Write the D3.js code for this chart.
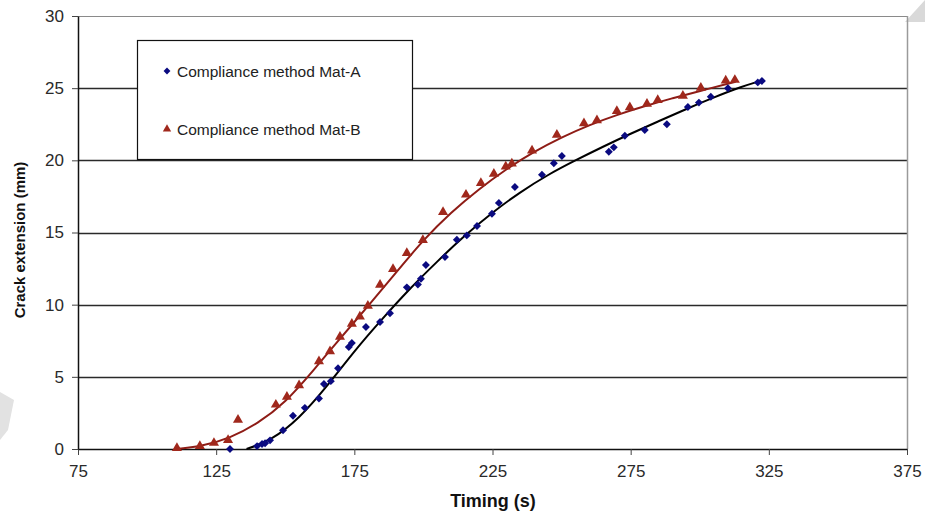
<!DOCTYPE html>
<html>
<head>
<meta charset="utf-8">
<script src="https://cdn.jsdelivr.net/npm/d3@7"></script>
<style>
  body { margin: 0; background: #fff; }
  svg { font-family: Arial, "Liberation Sans", sans-serif; }
</style>
</head>
<body>
<div id="chart"></div>
<script>
// Chart values
var xTicks = [75, 125, 175, 225, 275, 325, 375];
var yTicks = [0, 5, 10, 15, 20, 25, 30];

var seriesNames = ["Compliance method Mat-A", "Compliance method Mat-B"];

// Mat-A points (time s, crack mm)
var matATime = [130.0, 139.8, 141.6, 142.7, 144.5, 149.2, 152.8, 157.1, 162.2, 164.0, 166.5, 169.1,
  173.0, 174.1, 179.2, 184.3, 187.9, 194.0, 198.0, 199.1, 200.9, 207.8, 212.1, 215.7, 219.4,
  224.8, 227.3, 233.1, 242.9, 247.2, 250.1, 267.1, 268.9, 272.9, 280.1, 288.1, 295.7, 299.7,
  304.0, 310.2, 321.0, 322.5];
var matACrack = [0, 0.2, 0.35, 0.4, 0.6, 1.3, 2.3, 2.85, 3.5, 4.5, 4.7, 5.6,
  7.07, 7.35, 8.45, 8.8, 9.4, 11.2, 11.4, 11.8, 12.75, 13.3, 14.5, 14.8, 15.45,
  16.3, 17.05, 18.15, 19.0, 19.8, 20.3, 20.6, 20.9, 21.7, 22.1, 22.5, 23.7, 24.0,
  24.4, 25.0, 25.4, 25.5];

// Mat-B points
var matBTime = [110.8, 119.1, 124.2, 129.3, 132.9, 146.6, 150.6, 155.0, 162.2, 166.2, 169.8, 174.1,
  177.0, 179.9, 184.3, 189.0, 194.0, 199.8, 207.1, 215.4, 220.8, 225.5, 229.8, 232.0, 239.3,
  248.3, 258.1, 262.8, 270.0, 274.7, 280.9, 284.8, 293.9, 300.4, 309.4, 312.7];
var matBCrack = [0, 0.14, 0.35, 0.55, 1.95, 3.0, 3.55, 4.35, 6.0, 6.7, 7.7, 8.6,
  9.1, 9.85, 11.3, 12.4, 13.5, 14.4, 16.35, 17.55, 18.35, 19.0, 19.5, 19.7, 20.6,
  21.7, 22.5, 22.7, 23.35, 23.6, 23.85, 24.1, 24.4, 24.95, 25.45, 25.5];

// Trend curves, nodes
var trendATime = [136, 145, 155, 165, 175, 185, 195, 205, 215, 225, 235, 245, 255, 265, 275, 285, 295, 305, 315, 322];
var trendACrack = [0, 0.6, 2.1, 4.3, 6.8, 9.0, 11.1, 13.0, 14.8, 16.4, 17.8, 19.0, 20.0, 20.95, 21.85, 22.7, 23.55, 24.35, 25.1, 25.5];
var trendBTime = [110.8, 120, 130, 140, 150, 160, 170, 180, 190, 200, 210, 220, 230, 240, 250, 260, 270, 280, 290, 300, 313];
var trendBCrack = [0, 0.2, 0.75, 1.75, 3.2, 5.4, 7.7, 9.9, 12.2, 14.5, 16.4, 18.0, 19.4, 20.6, 21.6, 22.45, 23.15, 23.75, 24.3, 24.8, 25.45];

var svgWidth = 925;
var svgHeight = 514;

var margin = { top: 16, left: 78, right: 18, bottom: 65 };
var width = svgWidth - margin.left - margin.right;
var height = svgHeight - margin.top - margin.bottom;

var colorA = "#0a0a80";
var colorB = "#a0281c";
var lineB = "#8e1c16";

var svg = d3.select("#chart")
  .append("svg")
  .attr("width", svgWidth)
  .attr("height", svgHeight);

// faint scan marks at the page edges
svg.append("polygon").attr("points", "905,22 925,0 925,22").attr("fill", "#d9d9d9");
svg.append("polygon").attr("points", "0,392 14,400 8,430 0,440").attr("fill", "#e2e2e2");

var chartGroup = svg.append("g")
  .attr("transform", `translate(${margin.left}, ${margin.top})`);

var x = d3.scaleLinear().domain([75, 375]).range([0, width]);
var y = d3.scaleLinear().domain([0, 30]).range([height, 0]);

// gridlines
chartGroup.append("g")
  .selectAll("line")
  .data(yTicks.filter(d => d > 0 && d < 30))
  .enter()
  .append("line")
  .attr("x1", 0)
  .attr("x2", width)
  .attr("y1", d => Math.round(y(d)) + 0.5)
  .attr("y2", d => Math.round(y(d)) + 0.5)
  .attr("stroke", "#2a2a2a")
  .attr("stroke-width", 1.3);

// plot frame top / right
chartGroup.append("line")
  .attr("x1", 0).attr("x2", width)
  .attr("y1", 0.5).attr("y2", 0.5)
  .attr("stroke", "#8a8a8a");
chartGroup.append("line")
  .attr("x1", width + 0.5).attr("x2", width + 0.5)
  .attr("y1", 0).attr("y2", height)
  .attr("stroke", "#9a9a9a").attr("stroke-width", 1.5);

// axes
var bottomAxis = d3.axisBottom(x).tickValues(xTicks).tickSizeInner(6).tickSizeOuter(0).tickPadding(10);
var leftAxis = d3.axisLeft(y).tickValues(yTicks).tickSizeInner(6).tickSizeOuter(0).tickPadding(8);

var xAxisG = chartGroup.append("g")
  .attr("transform", `translate(0, ${height})`)
  .call(bottomAxis);
var yAxisG = chartGroup.append("g").call(leftAxis);

[xAxisG, yAxisG].forEach(function(g) {
  g.select(".domain").attr("stroke", "#111").attr("stroke-width", 1.5);
  g.selectAll(".tick line").attr("stroke", "#444");
  g.selectAll(".tick text")
    .attr("font-size", "17px")
    .attr("fill", "#2a2a2a")
    .attr("font-family", "Arial, 'Liberation Sans', sans-serif");
});

// axis titles
svg.append("text")
  .attr("x", 493)
  .attr("y", 507)
  .attr("text-anchor", "middle")
  .attr("font-size", "18px")
  .attr("font-weight", "bold")
  .attr("fill", "#111")
  .text("Timing (s)");

svg.append("text")
  .attr("transform", "translate(25, 240) rotate(-90)")
  .attr("text-anchor", "middle")
  .attr("font-size", "15px")
  .attr("font-weight", "bold")
  .attr("fill", "#111")
  .text("Crack extension (mm)");

// trend lines
var line = d3.line()
  .x(d => x(d[0]))
  .y(d => y(d[1]))
  .curve(d3.curveBasis);

chartGroup.append("path")
  .datum(d3.zip(trendATime, trendACrack))
  .attr("d", line)
  .attr("fill", "none")
  .attr("stroke", "#000")
  .attr("stroke-width", 2);

chartGroup.append("path")
  .datum(d3.zip(trendBTime, trendBCrack))
  .attr("d", line)
  .attr("fill", "none")
  .attr("stroke", lineB)
  .attr("stroke-width", 2);

// markers
var diamond = d3.symbol().type(d3.symbolDiamond2).size(40);
var triangle = d3.symbol().type(d3.symbolTriangle).size(44);

chartGroup.append("g")
  .selectAll("path")
  .data(d3.zip(matATime, matACrack))
  .enter()
  .append("path")
  .attr("d", diamond)
  .attr("transform", d => `translate(${x(d[0])}, ${y(d[1])})`)
  .attr("fill", colorA);

chartGroup.append("g")
  .selectAll("path")
  .data(d3.zip(matBTime, matBCrack))
  .enter()
  .append("path")
  .attr("d", triangle)
  .attr("transform", d => `translate(${x(d[0])}, ${y(d[1]) - 1})`)
  .attr("fill", colorB);

// legend
var legend = svg.append("g");
legend.append("rect")
  .attr("x", 137.5).attr("y", 40.5)
  .attr("width", 275).attr("height", 119)
  .attr("fill", "#fff")
  .attr("stroke", "#111")
  .attr("stroke-width", 1.2);

var legendRows = [
  { name: seriesNames[0], symbol: d3.symbol().type(d3.symbolDiamond2).size(30), color: colorA, y: 71 },
  { name: seriesNames[1], symbol: d3.symbol().type(d3.symbolTriangle).size(30), color: colorB, y: 129 }
];

legendRows.forEach(function(r) {
  legend.append("path")
    .attr("d", r.symbol)
    .attr("transform", `translate(167, ${r.y})`)
    .attr("fill", r.color);
  legend.append("text")
    .attr("x", 177)
    .attr("y", r.y + 5.5)
    .attr("font-size", "15.5px")
    .attr("fill", "#222")
    .text(r.name);
});
</script>
</body>
</html>
